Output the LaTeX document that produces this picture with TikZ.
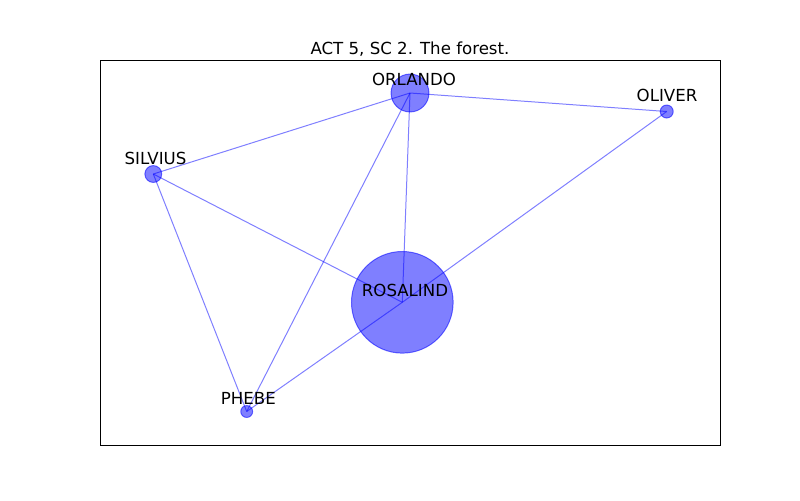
\documentclass[tikz,border=0pt]{standalone}
\usepackage{fontspec}
\setmainfont{DejaVu Sans}
\usepackage{tikz}

\tikzset{
  person/.style={circle,draw=blue,fill=blue,draw opacity=0.55,fill opacity=0.5,inner sep=0pt,line width=0.7pt},
  who/.style={anchor=base,font=\fontsize{12pt}{14pt}\selectfont,inner sep=0pt},
  tie/.style={draw=blue,draw opacity=0.5,line width=0.72pt}
}

\begin{document}
\begin{tikzpicture}[x=0.01in,y=-0.01in,line width=0.72pt]
  \useasboundingbox (0,0) rectangle (800,500);
  % axes frame and title
  \draw (100,60) rectangle (720,445);
  \node[who] (title) at (410,54) {ACT 5, SC 2. The forest.};

  % characters
  \node[person,minimum size=73.4pt] (rosalind) at (402.3,302.3) {};
  \node[person,minimum size=27.4pt] (orlando) at (410,93) {};
  \node[person,minimum size=9.4pt] (oliver) at (666.7,111.5) {};
  \node[person,minimum size=12.2pt] (silvius) at (153.3,174) {};
  \node[person,minimum size=8.6pt] (phebe) at (246.7,411.5) {};

  % who speaks with whom
  \foreach \a/\b in {orlando/oliver,orlando/silvius,orlando/rosalind,orlando/phebe,
                     oliver/rosalind,silvius/rosalind,silvius/phebe,rosalind/phebe} {
    \draw[tie] (\a.center) -- (\b.center);
  }

  % names
  \node[who] (rosalind-l) at (405,296) {ROSALIND};
  \node[who] (orlando-l) at (414,85.5) {ORLANDO};
  \node[who] (oliver-l) at (667,101) {OLIVER};
  \node[who] (silvius-l) at (155.5,164.5) {SILVIUS};
  \node[who] (phebe-l) at (248.3,404) {PHEBE};
\end{tikzpicture}
\end{document}
